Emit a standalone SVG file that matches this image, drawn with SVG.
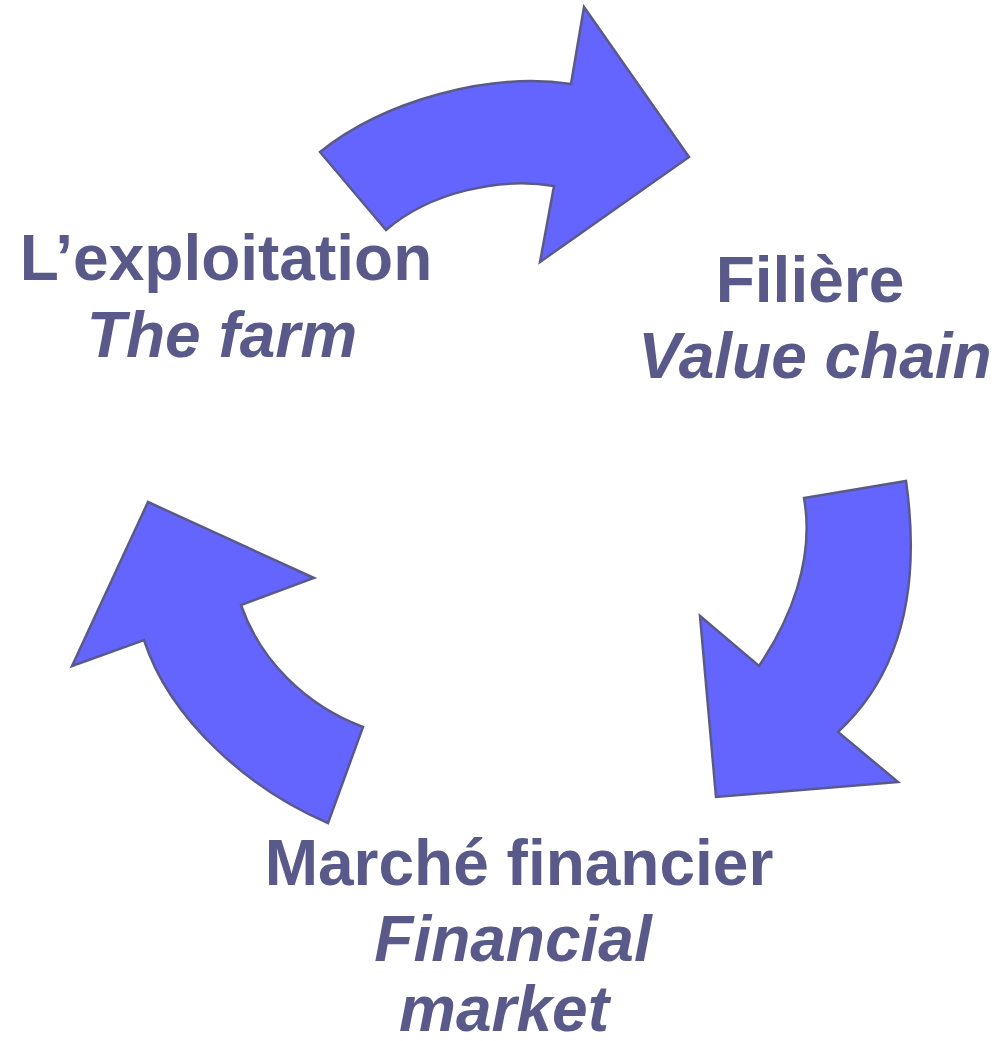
<svg xmlns="http://www.w3.org/2000/svg" width="997" height="1041" viewBox="0 0 997 1041">
<style>
.arrow{fill:#6464FF;stroke:#5A5A8A;stroke-width:2.5;stroke-linejoin:miter}
.lbl{font-family:"Liberation Sans",Arial,sans-serif;font-size:64px;font-weight:bold;fill:#5A5A8A;text-anchor:middle}
.it{font-style:italic}
</style>
<rect width="997" height="1041" fill="#FFFFFF"/>
<g id="connectors">
<path id="arrow-top" class="arrow" d="M320,152 C385,100 490,72 571,84 L584,7 L689,157 L540,262 L554,186 C500,177 430,192 386,230 Z"/>
<path id="arrow-right" class="arrow" d="M906,481 C920,580 905,670 838,732 L898,782 L716,797 L700,616 L759,666 C790,620 815,560 804,498 Z"/>
<path id="arrow-left" class="arrow" d="M363,727 C305,705 260,660 241,605 L314,578 L148,502 L72,666 L144,640 C170,720 250,790 328,823 Z"/>
</g>
<g id="node-farm">
<text class="lbl" x="226" y="280">L’exploitation</text>
<text class="lbl it" x="222" y="357">The farm</text>
</g>
<g id="node-chain">
<text class="lbl" x="810" y="302">Filière</text>
<text class="lbl it" x="815" y="378">Value chain</text>
</g>
<g id="node-market">
<text class="lbl" x="519" y="885">Marché financier</text>
<text class="lbl it" x="513" y="961">Financial</text>
<text class="lbl it" x="504" y="1031">market</text>
</g>
</svg>
